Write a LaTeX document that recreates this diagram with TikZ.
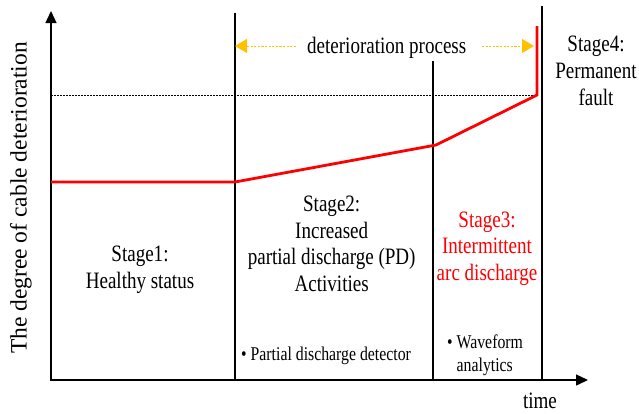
\documentclass[tikz,border=0pt]{standalone}
\usepackage{fontspec}
\setmainfont{Liberation Serif}[FakeStretch=0.81]
\newfontfamily\plainserif{Liberation Serif}
\usetikzlibrary{arrows.meta}
\definecolor{procorange}{HTML}{FFC000}
\definecolor{faultred}{HTML}{FF0000}
\tikzset{
  axisline/.style={line width=1.4pt, {Triangle[length=12pt,width=11pt]}-{Triangle[length=12pt,width=11pt]}},
  stagesep/.style={line width=1.3pt},
  curve/.style={line width=2.8pt, faultred, line join=miter},
  thresh/.style={line width=0.8pt, dash pattern=on 1.6pt off 1.4pt},
  procarrow/.style={line width=1pt, procorange, dash pattern=on 2.2pt off 1.4pt, -{Triangle[length=12pt,width=14pt]}},
  maintext/.style={font=\fontsize{23.5}{26.7}\selectfont, align=center, anchor=base, inner sep=0pt},
  smalltext/.style={font=\fontsize{19.5}{23.4}\selectfont, align=left, anchor=base west, inner sep=0pt},
  ylabel/.style={font=\plainserif\fontsize{23.5}{27}\selectfont, rotate=90, inner sep=0pt},
}
\begin{document}
\begin{tikzpicture}[x=1pt,y=-1pt]
\useasboundingbox (0,0) rectangle (639,413);
% axes
\coordinate (O) at (51,380);
\coordinate (Ytip) at (51,11);
\coordinate (Xtip) at (588,380);
\draw[axisline] (Ytip) -- (O) -- (Xtip);
% stage separators
\coordinate (s1t) at (235,13);  \coordinate (s1b) at (235,380);
\coordinate (s2t) at (433,61);  \coordinate (s2b) at (433,380);
\coordinate (s3t) at (542,6);   \coordinate (s3b) at (542,380);
\draw[stagesep] (s1t) -- (s1b);
\draw[stagesep] (s2t) -- (s2b);
\draw[stagesep] (s3t) -- (s3b);
% threshold
\coordinate (thL) at (51,95.5);
\coordinate (thR) at (537,95.5);
\draw[thresh] (thL) -- (thR);
% deterioration curve
\coordinate (c0) at (51,182);
\coordinate (c1) at (235,182);
\coordinate (c2) at (436,145);
\coordinate (c3) at (537,95);
\coordinate (c4) at (537,26);
\draw[curve] (c0) -- (c1) -- (c2) -- (c3) -- (c4);
% deterioration process
\node[maintext] (proc) at (386.7,53.3) {deterioration process};
\coordinate (pL0) at (296,46); \coordinate (pL1) at (235,46);
\coordinate (pR0) at (482,46); \coordinate (pR1) at (534,46);
\draw[procarrow] (pL0) -- (pL1);
\draw[procarrow] (pR0) -- (pR1);
% stage texts (anchor = baseline of last line)
\node[maintext] (st1) at (140,288.3) {Stage1:\\Healthy status};
\node[maintext] (st2) at (331.7,291.5) {Stage2:\\Increased\\partial discharge (PD)\\Activities};
\node[maintext, text=faultred] (st3) at (487,280.5) {Stage3:\\Intermittent\\arc discharge};
\node[maintext] (st4) at (596,105) {Stage4:\\Permanent\\fault};
% detection methods
\node[smalltext] (pdd) at (241,360.7) {\textbullet\ Partial discharge detector};
\node[smalltext] (wfa) at (447,371.7) {\textbullet\ Waveform\\\phantom{\textbullet\ }analytics};
% axis labels
\node[maintext] (tlabel) at (540,408) {time};
\node[ylabel] (ylab) at (21,198) {The degree of cable deterioration};
\end{tikzpicture}
\end{document}
